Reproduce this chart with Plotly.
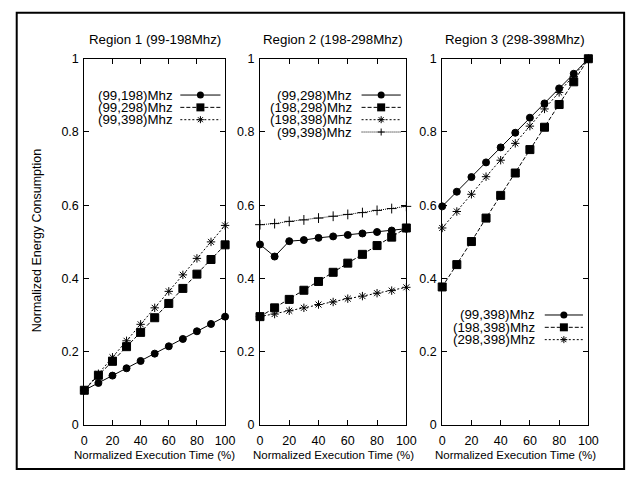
import plotly.graph_objects as go

W, H = 640, 477

# ---------------- data ----------------
exec_time = [0, 10, 20, 30, 40, 50, 60, 70, 80, 90, 100]

r1_99_198 = [0.095, 0.115, 0.135, 0.155, 0.175, 0.195, 0.215, 0.235, 0.256, 0.276, 0.296]
r1_99_298 = [0.095, 0.136, 0.174, 0.214, 0.253, 0.293, 0.332, 0.373, 0.412, 0.452, 0.492]
r1_99_398 = [0.095, 0.140, 0.185, 0.230, 0.275, 0.320, 0.365, 0.410, 0.455, 0.500, 0.545]

r2_99_298 = [0.493, 0.460, 0.502, 0.505, 0.511, 0.515, 0.519, 0.523, 0.527, 0.531, 0.536]
r2_198_298 = [0.296, 0.320, 0.343, 0.368, 0.392, 0.417, 0.442, 0.466, 0.490, 0.513, 0.538]
r2_198_398 = [0.296, 0.303, 0.312, 0.320, 0.329, 0.336, 0.345, 0.352, 0.360, 0.367, 0.376]
r2_99_398 = [0.547, 0.550, 0.556, 0.560, 0.565, 0.570, 0.575, 0.580, 0.586, 0.591, 0.597]

r3_99_398 = [0.597, 0.637, 0.677, 0.717, 0.758, 0.798, 0.839, 0.878, 0.919, 0.959, 1.000]
r3_198_398 = [0.377, 0.438, 0.501, 0.565, 0.627, 0.688, 0.752, 0.813, 0.875, 0.937, 1.000]
r3_298_398 = [0.538, 0.583, 0.630, 0.678, 0.723, 0.769, 0.816, 0.863, 0.908, 0.952, 1.000]

panel_titles = ["Region 1 (99-198Mhz)", "Region 2 (198-298Mhz)", "Region 3 (298-398Mhz)"]
x_title = "Normalized Execution Time (%)"
y_title = "Normalized Energy Consumption"
x_ticks = [0, 20, 40, 60, 80, 100]
y_ticks = [0, 0.2, 0.4, 0.6, 0.8, 1]
y_ticklabels = ["0", "0.2", "0.4", "0.6", "0.8", "1"]

# styles
STY = {
    "circle": dict(symbol="circle", size=7, dash="solid"),
    "square": dict(symbol="square", size=8, dash="4px,2px"),
    "star": dict(symbol="asterisk-open", size=7, dash="2px,2px"),
    "plus": dict(symbol="cross-thin-open", size=7, dash="1px,1px"),
}

panels = [
    [("(99,198)Mhz", r1_99_198, "circle"),
     ("(99,298)Mhz", r1_99_298, "square"),
     ("(99,398)Mhz", r1_99_398, "star")],
    [("(99,298)Mhz", r2_99_298, "circle"),
     ("(198,298)Mhz", r2_198_298, "square"),
     ("(198,398)Mhz", r2_198_398, "star"),
     ("(99,398)Mhz", r2_99_398, "plus")],
    [("(99,398)Mhz", r3_99_398, "circle"),
     ("(198,398)Mhz", r3_198_398, "square"),
     ("(298,398)Mhz", r3_298_398, "star")],
]

# layout geometry (pixels)
panel_px = [(83, 226.7), (262.3, 411.7), (448.3, 597.5)]
plot_top, plot_bot = 53.3, 430.7
legend_cfg = [  # text right x, line x0, line x1, first row y
    (176, 181, 222, 90.7),
    (358, 366, 406, 90.7),
    (545, 553, 592, 317.3),
]
row_h = 12.7

FONT = "Liberation Sans, Arial, Helvetica, sans-serif"


def px(x):
    return x / W


def py(y):
    return 1 - y / H


fig = go.Figure()
layout = dict(
    width=W, height=H,
    margin=dict(l=0, r=0, t=0, b=0),
    paper_bgcolor="white", plot_bgcolor="white",
    showlegend=False,
    font=dict(family=FONT, color="black"),
)
shapes = []
annotations = []

for i, (series, (xl, xr)) in enumerate(zip(panels, panel_px)):
    k = "" if i == 0 else str(i + 1)
    for name, vals, st in series:
        s = STY[st]
        fig.add_trace(go.Scatter(
            x=exec_time, y=vals, name=name, mode="lines+markers",
            xaxis="x" + k, yaxis="y" + k, cliponaxis=False,
            line=dict(color="black", width=1, dash=s["dash"]),
            marker=dict(symbol=s["symbol"], size=s["size"], color="black",
                        line=dict(color="black", width=1)),
        ))
    axcommon = dict(showgrid=False, zeroline=False, showline=True, linecolor="black",
                    linewidth=1, mirror="ticks", ticks="inside", ticklen=5,
                    tickcolor="black", tickwidth=1,
                    tickfont=dict(family=FONT, size=12.5, color="black"))
    layout["xaxis" + k] = dict(axcommon, domain=[px(xl), px(xr)], range=[0, 100],
                               tickvals=x_ticks, anchor="y" + k, ticklabelstandoff=4)
    layout["yaxis" + k] = dict(axcommon, domain=[py(plot_bot), py(plot_top)], range=[0, 1],
                               tickvals=y_ticks, ticktext=y_ticklabels, anchor="x" + k,
                               ticklabelstandoff=2)
    # panel title
    annotations.append(dict(text=panel_titles[i], x=px((xl + xr) / 2), y=py(33),
                            xref="paper", yref="paper", showarrow=False,
                            xanchor="center", yanchor="middle",
                            font=dict(family=FONT, size=13.3, color="black")))
    # x axis title
    annotations.append(dict(text=x_title, x=px((xl + xr) / 2), y=py(462),
                            xref="paper", yref="paper", showarrow=False,
                            xanchor="center", yanchor="middle",
                            font=dict(family=FONT, size=11.5, color="black")))
    # legend
    tx, lx0, lx1, ry = legend_cfg[i]
    for j, (name, vals, st) in enumerate(series):
        yy = ry + j * row_h
        annotations.append(dict(text=name, x=px(tx), y=py(yy), xref="paper", yref="paper",
                                showarrow=False, xanchor="right", yanchor="middle",
                                font=dict(family=FONT, size=13.3, color="black")))
        shapes.append(dict(type="line", xref="paper", yref="paper",
                           x0=px(lx0), x1=px(lx1), y0=py(yy), y1=py(yy),
                           line=dict(color="black", width=1, dash=STY[st]["dash"])))
        mx = (lx0 + lx1) / 2
        base = dict(xref="paper", yref="paper", xsizemode="pixel", ysizemode="pixel",
                    xanchor=px(mx), yanchor=py(yy))
        if st == "circle":
            shapes.append(dict(base, type="circle", x0=-3.5, x1=3.5, y0=-3.5, y1=3.5,
                               fillcolor="black", line=dict(color="black", width=0)))
        elif st == "square":
            shapes.append(dict(base, type="rect", x0=-4, x1=4, y0=-4, y1=4,
                               fillcolor="black", line=dict(color="black", width=0)))
        elif st == "star":
            shapes.append(dict(base, type="path",
                               path="M-3.5,0L3.5,0M0,-3.5L0,3.5M-2.5,-2.5L2.5,2.5M-2.5,2.5L2.5,-2.5",
                               line=dict(color="black", width=1)))
        else:
            shapes.append(dict(base, type="path",
                               path="M-3.5,0L3.5,0M0,-3.5L0,3.5",
                               line=dict(color="black", width=1)))

# y axis title
annotations.append(dict(text=y_title, x=px(35), y=py(241), xref="paper", yref="paper",
                        showarrow=False, textangle=-90, xanchor="center", yanchor="middle",
                        font=dict(family=FONT, size=12.5, color="black")))

# outer frame
shapes.append(dict(type="rect", xref="paper", yref="paper",
                   x0=px(14), x1=px(634), y0=py(476), y1=py(6),
                   line=dict(color="black", width=2)))

layout["shapes"] = shapes
layout["annotations"] = annotations
fig.update_layout(**layout)
fig.write_html("out.html")
